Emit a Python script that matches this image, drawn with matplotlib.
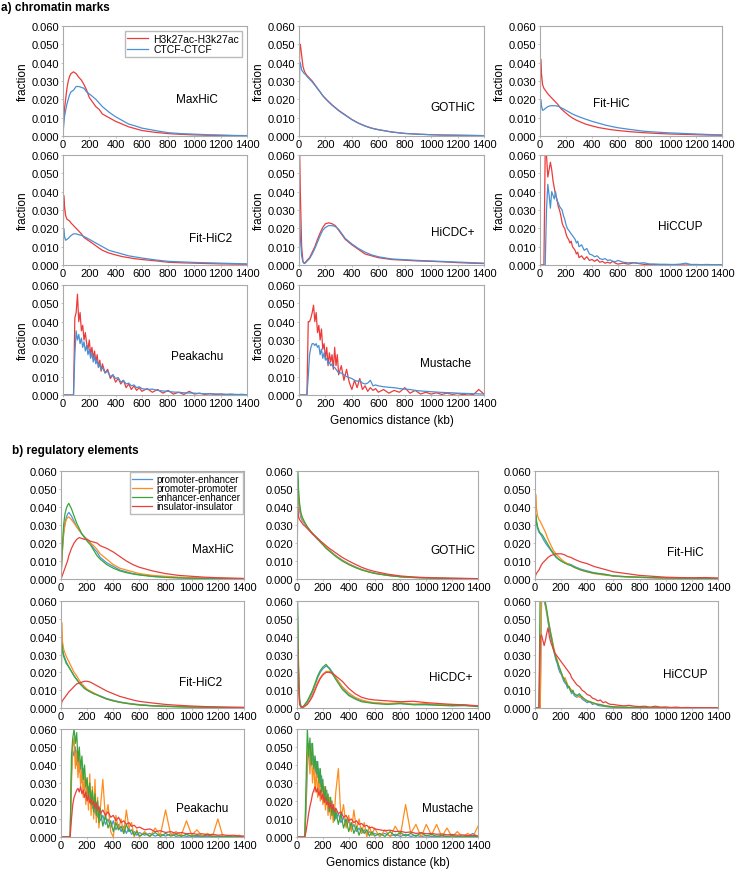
import numpy as np
import matplotlib.pyplot as plt

plt.rcParams['font.family'] = ['Liberation Sans', 'DejaVu Sans']

# x grids (kb)
XS = [0, 5, 10, 20, 30, 40, 50, 60,
      80, 100, 120, 140, 160, 180, 200, 225, 250, 275, 300,
      350, 400, 450, 500, 550, 600,
      700, 800, 900, 1000, 1100, 1200, 1300, 1400]
XN = np.concatenate([np.arange(0, 301, 10), np.arange(320, 601, 20), np.arange(640, 1401, 40)])

# values in units of 0.001 (fraction)
# ---------------- a) chromatin marks: H3k27ac (red), CTCF (blue) ----------------
a_maxhic_h3 = [0, 8, 14, 20, 26, 30, 32.5, 34,
               35, 34, 32, 30.5, 28, 25, 21, 18.5, 16, 14.5, 12,
               10, 8, 6.5, 5, 4, 3,
               2, 1.3, 0.9, 0.6, 0.4, 0.3, 0.2, 0.1]
a_maxhic_ctcf = [0, 6, 10, 14, 17.5, 20, 22.5, 24,
                 25, 27, 27, 26.5, 26, 24, 23, 21.5, 20, 18, 16,
                 13, 10.5, 8.5, 6.5, 5.5, 4.3,
                 3, 1.8, 1.3, 1.0, 0.7, 0.5, 0.3, 0.2]
a_gothic_h3 = [0, 50, 50, 44, 38, 35.5, 34, 33,
               31.5, 30, 28, 26, 24, 22, 20.5, 18.7, 17, 15.5, 14,
               11.5, 9, 7, 5.5, 4.3, 3.5,
               2.2, 1.4, 1, 0.7, 0.5, 0.4, 0.3, 0.2]
a_gothic_ctcf = [0, 40, 40, 36, 35, 34, 33.5, 32.5,
                 31, 29.5, 27.7, 25.8, 24, 22, 20.3, 18.5, 16.8, 15.3, 13.8,
                 11.3, 8.9, 7, 5.4, 4.2, 3.4,
                 2.2, 1.4, 1, 0.7, 0.5, 0.4, 0.3, 0.2]
a_fithic_h3 = [0, 42, 35, 28, 26, 25, 24, 23,
               21.5, 20, 18.5, 17, 15, 13.7, 12.5, 11, 9.8, 8.8, 8,
               6.5, 5.5, 4.6, 4, 3.4, 3,
               2.3, 1.8, 1.4, 1.1, 0.9, 0.7, 0.5, 0.4]
a_fithic_ctcf = [0, 20, 17, 14, 14.3, 15, 15.5, 16,
                 16.5, 16.5, 16.5, 16.2, 15.5, 14.8, 14, 13, 12, 11.2, 10.5,
                 9.2, 8, 7, 6, 5.2, 4.5,
                 3.5, 2.6, 2.1, 1.7, 1.4, 1.1, 0.8, 0.6]
a_fithic2_h3 = [0, 38, 33, 27, 25, 24.5, 24, 23,
                21.5, 20, 18.5, 17, 15, 14, 13, 11.8, 10.5, 9.2, 8,
                6.5, 5.5, 4.6, 4, 3.4, 3,
                2.3, 1.5, 1.2, 1.0, 0.8, 0.6, 0.5, 0.4]
a_fithic2_ctcf = [0, 20, 16, 13.5, 14, 14.5, 15.3, 16,
                  17, 17, 16.5, 16.2, 15.5, 14.8, 14, 13, 12, 11, 10,
                  8, 7, 6, 5, 4.4, 3.8,
                  2.8, 2, 1.7, 1.4, 1.2, 1, 0.8, 0.6]
a_hicdc_h3 = [65, 62, 40, 10, 2, 1, 1.5, 2.5,
              4, 7, 10, 14, 17.5, 20.5, 22.5, 23, 22.5, 21.5, 19,
              14, 11, 8.5, 6, 5, 4,
              3, 2.6, 2.2, 2, 1.7, 1.3, 1.0, 0.8]
a_hicdc_ctcf = [30, 25, 15, 5, 1.5, 0.8, 1.2, 2,
                3.5, 6, 9, 12.5, 16, 19, 20.5, 21.5, 21.5, 21, 19.5,
                14.5, 11.5, 9, 7, 5.5, 4.5,
                3.3, 2.9, 2.5, 2.2, 1.9, 1.6, 1.3, 1.0]
a_hiccup_h3 = [0, 0, 0, 0, 62, 60, 48, 52, 56, 52, 46, 42, 38, 36, 32, 30, 27, 23, 21, 20, 17,
               15, 14, 12, 13, 10, 9, 8, 6, 7, 4,
               5, 3, 4.5, 2.5, 3, 2, 3, 1.5, 2, 1, 1.5, 1, 2, 1, 0.5,
               1, 0.5, 1.2, 0.8, 0.3, 0.2, 0.3, 0.2, 0.1, 0.1, 0.2, 0.1, 0, 0.1, 0, 0, 0.1, 0, 0, 0]
a_hiccup_ctcf = [0, 0, 0, 0, 0, 30, 44, 38, 31, 40, 38, 36, 40, 35, 34, 32, 31, 30, 27, 25, 22,
                 20, 19, 18, 17, 16, 15, 14, 12, 13, 10,
                 11, 8, 9, 6, 5.5, 4.5, 5, 3.5, 3, 3.5, 2.5, 2.8, 2, 1.8, 2.5,
                 1.5, 1.2, 1.3, 1, 1.2, 0.6, 0.5, 0.4, 0.4, 0.3, 0.3, 0.5, 1, 0.3, 0.3, 0.2, 0.3, 0.2, 0.2, 0.2]
a_peakachu_h3 = [0, 0, 0, 0, 0, 0, 0, 0, 0, 42, 45, 55, 40, 45, 35, 38, 30, 34, 28, 25, 30,
                 22, 26, 20, 24, 18, 22, 15, 19, 13, 17,
                 12, 14, 9, 11, 7, 9, 6, 8, 4, 6, 3, 5, 2.5, 4, 2,
                 3.5, 1.5, 3, 1, 2.5, 0.5, 1.5, 0.3, 2, 0.5, 1, 0.3, 0.8, 0.2, 0.5, 0.2, 0.4, 0.1, 0.3, 0.1]
a_peakachu_ctcf = [0, 0, 0, 0, 0, 0, 0, 0, 0, 22, 35, 30, 33, 28, 31, 26, 29, 24, 27, 22, 25,
                   20, 23, 18, 21, 17, 19, 15, 17, 14, 15,
                   12, 13, 10, 11, 9, 9.5, 7, 8, 6, 6.5, 5, 5.5, 4, 4.5, 3.5,
                   3, 3.2, 2.5, 2.2, 2, 1.6, 1.5, 1.2, 1.1, 1, 0.8, 0.7, 0.6, 0.6, 0.5, 0.4, 0.4, 0.3, 0.3, 0.2]
a_mustache_h3 = [0, 0, 0, 0, 0, 0, 0, 40, 40, 42, 45, 49, 40, 45, 34, 38, 30, 36, 25, 28, 20,
                 26, 16, 23, 18, 22, 14, 26, 16, 22, 11,
                 16, 8, 14, 7, 3, 8, 4, 9, 3, 5, 2, 4, 2.5, 3.5, 1.5,
                 3, 1, 2.5, 1.5, 4, 1, 2.5, 0.5, 1.5, 0.5, 1.2, 0.3, 1, 0.3, 0.8, 0.2, 0.6, 0.2, 3, 0.5]
a_mustache_ctcf = [0, 0, 0, 0, 0, 0, 0, 10, 22, 26, 28, 28, 27, 28, 26, 27, 22, 25, 20, 23, 19,
                   20, 17, 18, 16, 17, 15, 15, 14, 13, 12,
                   12, 11, 10, 9.5, 9, 8, 7.5, 8, 6.5, 6, 6.5, 8, 5, 5.5, 5,
                   4.5, 4.2, 4, 3.5, 3.2, 3, 2.5, 2.2, 2, 1.8, 1.6, 1.4, 1.3, 1.2, 1, 0.9, 0.8, 0.7, 0.6, 0.5]

# ---------------- b) regulatory elements: P-E (blue), P-P (orange), E-E (green), I-I (red) ----------------
b_maxhic_pe = [0, 8, 15, 25, 31, 34, 36, 37,
               35, 32, 29, 27, 25, 23.5, 22, 20, 17, 15, 12,
               9, 7, 5, 4, 3, 2.5,
               1.5, 1, 0.7, 0.5, 0.4, 0.3, 0.2, 0.1]
b_maxhic_pp = [0, 8, 15, 25, 30, 33, 34, 34.5,
               33, 31, 29, 27, 25, 23, 22, 20, 18.5, 16.5, 14,
               11, 8, 6, 5, 4, 3,
               2, 1.5, 1, 0.7, 0.5, 0.4, 0.3, 0.2]
b_maxhic_ee = [0, 10, 18, 30, 36, 39, 41, 42,
               39, 35, 31, 28, 25, 23, 21, 19, 16, 13, 11,
               8, 6, 4.5, 3.5, 2.8, 2.2,
               1.4, 0.9, 0.6, 0.4, 0.3, 0.2, 0.15, 0.1]
b_maxhic_ii = [0, 1, 2, 4, 6, 8, 10, 13,
               17, 20, 22, 23, 22.5, 22, 22, 21, 20.5, 20, 18.5,
               17, 15, 12.5, 10, 8, 6.5,
               4.5, 3, 2, 1.5, 1, 0.7, 0.5, 0.3]
b_gothic_pe = [0, 50, 45, 38, 34, 32.5, 31.5, 30.5,
               28.5, 27, 25.5, 24, 22.5, 21, 19.5, 17.5, 16, 14.5, 13,
               10.5, 8.5, 6.8, 5.3, 4.2, 3.3,
               2.1, 1.3, 0.9, 0.6, 0.45, 0.3, 0.25, 0.2]
b_gothic_pp = [0, 55, 48, 40, 36, 33.5, 32, 31,
               29, 27, 25.3, 23.8, 22.3, 20.8, 19.3, 17.5, 15.8, 14.3, 12.8,
               10.3, 8.3, 6.6, 5.2, 4.1, 3.2,
               2, 1.3, 0.9, 0.6, 0.45, 0.3, 0.25, 0.2]
b_gothic_ee = [0, 60, 52, 42, 37, 34.5, 33, 31.5,
               29, 27, 25, 23.5, 22, 20.5, 19, 17, 15.5, 14, 12.5,
               10, 8, 6.4, 5, 4, 3.1,
               2, 1.2, 0.8, 0.6, 0.4, 0.3, 0.2, 0.15]
b_gothic_ii = [0, 40, 35, 33, 32, 31, 30, 29.5,
               28, 26.5, 25, 23.8, 22.5, 21.2, 20, 18.5, 17, 15.8, 14.5,
               12, 10, 8.2, 6.5, 5.2, 4.2,
               2.7, 1.7, 1.1, 0.8, 0.55, 0.4, 0.3, 0.2]
b_fithic_pe = [0, 35, 32, 28, 26, 25, 24, 22.5,
               20, 18, 16, 14, 12, 11, 10, 9, 8.5, 8, 7,
               5.5, 4.5, 3.5, 3, 2.5, 1.5,
               1.2, 0.9, 0.7, 0.5, 0.4, 0.3, 0.2, 0.15]
b_fithic_pp = [0, 47, 40, 35, 33, 32, 30.5, 29,
               26, 22, 19, 16, 14, 12.5, 11, 9.5, 8.5, 7.5, 6.5,
               5, 4, 3, 2.5, 2, 1.7,
               1.2, 0.9, 0.7, 0.5, 0.4, 0.3, 0.2, 0.15]
b_fithic_ee = [0, 36, 33, 29, 27, 25.5, 25, 24,
               21.5, 19, 16.5, 14.5, 12.5, 11, 10, 9, 8, 7.5, 6.5,
               5, 4, 3.3, 2.8, 2.3, 1.8,
               1.3, 1, 0.8, 0.6, 0.4, 0.3, 0.2, 0.15]
b_fithic_ii = [0, 2, 3, 4, 5, 6.5, 8, 9,
               10.5, 12, 13, 13.5, 14, 14, 14, 13.5, 12.5, 12, 11,
               9.5, 8.5, 7, 6, 5, 4,
               3, 2, 1.5, 1, 0.8, 0.7, 0.8, 0.6]
b_fithic2_pe = [0, 40, 34, 30, 28, 26, 24.5, 23,
                20.5, 18, 16, 14, 12.5, 11, 10, 9, 8.2, 7.5, 6.8,
                5.3, 4.3, 3.4, 2.8, 2.3, 1.9,
                1.3, 1, 0.8, 0.6, 0.45, 0.35, 0.25, 0.2]
b_fithic2_pp = [0, 48, 38, 33, 31, 29, 27.5, 26,
                23, 20, 18, 15.5, 13.5, 12, 10.5, 9.5, 8.5, 7.5, 6.5,
                5, 4, 3.2, 2.6, 2.1, 1.7,
                1.2, 0.9, 0.7, 0.5, 0.4, 0.3, 0.2, 0.15]
b_fithic2_ee = [0, 36, 33, 29, 27, 25, 24, 23,
                20.5, 18, 16, 14, 12.5, 11, 10, 9, 8, 7.3, 6.5,
                5, 4, 3.2, 2.6, 2.1, 1.7,
                1.2, 0.9, 0.7, 0.5, 0.4, 0.3, 0.2, 0.15]
b_fithic2_ii = [0, 3, 4, 5, 6, 7, 8, 9,
                10.5, 12, 13.5, 14, 14.5, 15, 15, 14.5, 13.5, 12.5, 11.5,
                9.5, 8, 6.5, 5.5, 4.5, 3.7,
                2.8, 2, 1.5, 1.1, 0.8, 0.6, 0.5, 0.4]
b_hicdc_pe = [58, 50, 25, 4, 1, 0.5, 0.8, 1.5,
              3.5, 6, 9, 13, 17, 20, 22, 23.5, 22.5, 20, 17,
              11.5, 7.5, 5.5, 4, 3.2, 2.8,
              2.3, 2.5, 2, 1.8, 1.6, 1.4, 1.3, 1]
b_hicdc_pp = [60, 45, 20, 3, 0.5, 0.3, 0.5, 1,
              2.5, 4.5, 7.5, 11, 14.5, 17, 19, 20.5, 20.5, 19, 17,
              12, 8.5, 6, 4.5, 3.5, 3,
              2.5, 3, 2.2, 2.5, 1.8, 2, 1.5, 1]
b_hicdc_ee = [62, 60, 30, 5, 1, 0.5, 1, 2,
              4, 7, 10, 14, 18, 21, 23, 24.5, 22, 19, 16,
              10.5, 7, 5, 3.5, 3, 2.5,
              2, 2.5, 1.8, 2, 1.5, 1.2, 1.5, 0.8]
b_hicdc_ii = [45, 35, 15, 2, 0.5, 0.3, 0.5, 1,
              2, 4, 6.5, 10, 13.5, 16.5, 18.5, 20, 20, 19.5, 18,
              15, 11, 8, 6, 5, 4.5,
              4, 3.5, 3.8, 3, 2.5, 2, 1.8, 1.2]
b_hiccup_pe = [0, 0, 0, 0, 0, 62, 62, 60, 57, 53, 48, 44, 40, 37, 33, 30, 27, 25, 22, 20, 19,
               17, 15, 14, 13, 11, 12, 10, 8, 9, 7,
               6, 7, 5, 4, 3, 3.5, 2, 2.5, 1.5, 1.2, 1, 0.8, 0.6, 0.5, 0.4,
               0.3, 0.3, 0.2, 0.2, 0.2, 0.1, 0.1, 0.1, 0.1, 0, 0, 0, 0, 0, 0, 0, 0, 0, 0, 0]
b_hiccup_pp = [0, 0, 0, 0, 0, 60, 62, 61, 58, 54, 50, 46, 42, 39, 35, 32, 29, 27, 24, 22, 20,
               18, 16, 17, 15, 13, 12, 11, 10, 9, 8,
               7, 6, 6.5, 4.5, 4, 3.5, 3, 2.5, 2.2, 1.8, 1.5, 1.2, 1, 0.8, 0.6,
               0.5, 0.4, 0.4, 0.3, 0.3, 0.2, 0.2, 0.2, 0.1, 0.1, 0.1, 0.1, 0, 0, 0, 0, 0, 0, 0, 0]
b_hiccup_ee = [0, 0, 0, 0, 70, 65, 62, 62, 59, 55, 50, 46, 42, 38, 34, 31, 28, 26, 24, 22, 20,
               18, 16.5, 15, 14, 12, 12, 10, 9, 10, 8,
               7, 8, 6, 5, 4, 3.5, 3, 2.5, 2, 2, 1.5, 1.2, 1, 0.8, 0.7,
               0.5, 0.4, 0.3, 0.3, 0.2, 0.2, 0.1, 0.1, 0.1, 0.1, 0, 0, 0, 0, 0, 0, 0, 0, 0, 0]
b_hiccup_ii = [0, 0, 0, 0, 40, 41, 38, 35, 38, 42, 45, 40, 37, 35, 33, 31, 30, 29, 28, 27, 26,
               25, 24, 23, 22, 21, 20, 19, 17, 16, 15,
               13, 12, 10, 9, 7.5, 7, 5.5, 5, 4, 4.5, 3, 3.5, 2.5, 2, 2,
               1.5, 1.2, 1.5, 1, 0.8, 1, 0.5, 1, 0.5, 0.6, 0.3, 0.5, 0.2, 0.3, 0.2, 0.2, 0.1, 0.2, 0.1, 0.1]
b_peakachu_pe = [0, 0, 0, 0, 0, 0, 0, 0, 35, 48, 45, 50, 40, 46, 36, 42, 30, 38, 26, 32, 22,
                 28, 20, 25, 16, 22, 13, 18, 11, 15, 9,
                 12, 7, 10, 5, 9, 4, 7, 3, 6, 2, 5, 1.5, 3, 1, 2.5,
                 1, 2, 0.5, 1.5, 0.5, 1.8, 0.3, 1, 0.3, 0.8, 0.2, 0.6, 0.2, 0.5, 0.2, 0.3, 0.1, 0.2, 0.1, 0.1]
b_peakachu_pp = [0, 0, 0, 0, 0, 0, 0, 0, 30, 50, 55, 38, 48, 33, 45, 28, 38, 22, 34, 18, 30,
                 15, 35, 12, 28, 10, 32, 8, 22, 5, 15,
                 32, 10, 18, 3, 0, 12, 4, 10, 2, 15, 5, 8, 0, 4, 0,
                 3, 0, 5, 1, 15, 1, 3, 1, 9, 1, 4, 0.5, 2, 0.5, 10, 0, 1, 0, 1, 0]
b_peakachu_ee = [0, 0, 0, 0, 0, 0, 0, 0, 45, 55, 60, 52, 58, 42, 50, 38, 45, 32, 40, 28, 33,
                 22, 30, 18, 26, 14, 24, 12, 20, 8, 16,
                 6, 12, 5, 9, 3, 8, 4, 6, 2, 7, 3, 4, 1, 3, 0.5,
                 2, 0.5, 2.5, 0.3, 2, 0.5, 1.5, 0.3, 1.5, 0.3, 1, 0.2, 1.2, 0.2, 0.5, 0.2, 0.3, 0.1, 0.2, 0.1]
b_peakachu_ii = [0, 0, 0, 0, 0, 0, 0, 0, 10, 18, 22, 24, 26, 27, 25, 28, 24, 26, 22, 25, 20,
                 23, 19, 21, 18, 20, 16, 19, 15, 17, 13,
                 15, 12, 14, 11, 12, 9, 11, 8, 9, 7, 8, 6, 6.5, 5, 5.5,
                 4, 4.5, 3, 3.5, 2.5, 3, 2, 2.5, 1.8, 2, 1.5, 1.8, 1.2, 1.5, 1, 1.2, 0.8, 1, 0.6, 0.5]
b_mustache_pe = [0, 0, 0, 0, 0, 0, 0, 15, 38, 48, 42, 52, 40, 45, 36, 42, 33, 38, 28, 34, 25,
                 28, 20, 26, 17, 22, 14, 20, 12, 16, 10,
                 13, 8, 11, 6, 9, 4, 7, 3, 5, 2, 4, 1.5, 3, 1, 2,
                 1, 2, 0.5, 1.5, 0.3, 1.5, 0.3, 1, 0.2, 0.8, 0.2, 0.5, 0.2, 0.4, 0.1, 0.3, 0.1, 0.2, 2, 0.1]
b_mustache_pp = [0, 0, 0, 0, 0, 0, 0, 20, 45, 52, 35, 50, 30, 42, 25, 38, 22, 35, 20, 30, 18,
                 28, 15, 25, 12, 22, 10, 20, 8, 14, 25,
                 38, 10, 18, 5, 12, 3, 15, 4, 10, 2, 8, 0, 6, 1, 5,
                 0, 4, 0, 6, 1, 18, 2, 7, 0, 7, 1, 7, 0, 5, 0, 3, 0, 2, 0, 6]
b_mustache_ee = [0, 0, 0, 0, 0, 0, 0, 30, 60, 45, 55, 40, 52, 38, 45, 35, 42, 30, 38, 25, 32,
                 20, 28, 18, 24, 14, 22, 12, 18, 9, 15,
                 7, 13, 5, 10, 3, 8, 2, 6, 1, 5, 2, 4, 0.5, 3, 0.5,
                 2, 0.3, 3, 0.5, 2.5, 0.5, 2, 0.3, 2.5, 0.5, 1.5, 0.3, 1, 0.2, 0.8, 0.2, 0.5, 0.1, 0.3, 0.1]
b_mustache_ii = [0, 0, 0, 0, 0, 0, 0, 3, 8, 13, 17, 20, 24, 26, 28, 25, 27, 23, 26, 21, 24,
                 19, 22, 18, 20, 16, 19, 15, 18, 14, 16,
                 13, 14, 11, 12, 9, 10, 8, 9, 7, 7.5, 6, 6.5, 5, 5.5, 4.5,
                 4, 3.5, 3.8, 3, 3.2, 2.5, 2.8, 2, 2.3, 1.8, 2, 1.5, 1.7, 1.2, 1.4, 1, 1.2, 0.8, 1, 0.6]

a_labels = ['H3k27ac-H3k27ac', 'CTCF-CTCF']
a_colors = ['#ec3b3b', '#4a90d2']
b_labels = ['promoter-enhancer', 'promoter-promoter', 'enhancer-enhancer', 'insulator-insulator']
b_colors = ['#4b95d8', '#ff8c1c', '#3aa63a', '#e8403c']

tools = ['MaxHiC', 'GOTHiC', 'Fit-HiC', 'Fit-HiC2', 'HiCDC+', 'HiCCUP', 'Peakachu', 'Mustache']

a_data = [
    (XS, [a_maxhic_h3, a_maxhic_ctcf]),
    (XS, [a_gothic_h3, a_gothic_ctcf]),
    (XS, [a_fithic_h3, a_fithic_ctcf]),
    (XS, [a_fithic2_h3, a_fithic2_ctcf]),
    (XS, [a_hicdc_h3, a_hicdc_ctcf]),
    (XN, [a_hiccup_h3, a_hiccup_ctcf]),
    (XN, [a_peakachu_h3, a_peakachu_ctcf]),
    (XN, [a_mustache_h3, a_mustache_ctcf]),
]
b_data = [
    (XS, [b_maxhic_pe, b_maxhic_pp, b_maxhic_ee, b_maxhic_ii]),
    (XS, [b_gothic_pe, b_gothic_pp, b_gothic_ee, b_gothic_ii]),
    (XS, [b_fithic_pe, b_fithic_pp, b_fithic_ee, b_fithic_ii]),
    (XS, [b_fithic2_pe, b_fithic2_pp, b_fithic2_ee, b_fithic2_ii]),
    (XS, [b_hicdc_pe, b_hicdc_pp, b_hicdc_ee, b_hicdc_ii]),
    (XN, [b_hiccup_pe, b_hiccup_pp, b_hiccup_ee, b_hiccup_ii]),
    (XN, [b_peakachu_pe, b_peakachu_pp, b_peakachu_ee, b_peakachu_ii]),
    (XN, [b_mustache_pe, b_mustache_pp, b_mustache_ee, b_mustache_ii]),
]

W, H = 735, 870
# panel boxes in pixels: (left, right, top, bottom)
a_cols = [(63, 247), (299, 484), (540, 722)]
a_rows = [(27, 137), (156, 266), (286, 396)]
b_cols = [(61, 244), (297, 478), (535, 718)]
b_rows = [(472, 580), (602, 709), (730, 838)]
a_txt = [(0.73, 0.34), (0.83, 0.26), (0.39, 0.30), (0.80, 0.25),
         (0.83, 0.30), (0.77, 0.35), (0.73, 0.35), (0.79, 0.29)]
b_txt = [(0.83, 0.28), (0.86, 0.27), (0.82, 0.25), (0.76, 0.24),
         (0.85, 0.29), (0.82, 0.32), (0.77, 0.27), (0.83, 0.27)]

fig = plt.figure(figsize=(W / 100, H / 100), dpi=100)


def make_panel(box, xs, series, colors, name, txt, ylab):
    l, r, t, b = box
    ax = fig.add_axes([l / W, 1 - b / H, (r - l) / W, (b - t) / H])
    lines = []
    for ys, c in zip(series, colors):
        ys = np.asarray(ys, dtype=float)
        assert len(ys) == len(xs), (name, len(ys), len(xs))
        ln, = ax.plot(xs, ys / 1000, color=c, lw=0.9)
        lines.append(ln)
    ax.set_xlim(0, 1400)
    ax.set_ylim(0, 0.06)
    ax.set_xticks(range(0, 1401, 200))
    ax.set_yticks(np.arange(0, 0.0601, 0.01))
    ax.yaxis.set_major_formatter(plt.FormatStrFormatter('%.3f'))
    ax.tick_params(labelsize=8, length=1.5, width=0.5, color='#aaaaaa', pad=1)
    for s in ax.spines.values():
        s.set_color('#aaaaaa')
        s.set_linewidth(0.8)
    ax.text(txt[0], txt[1], name, transform=ax.transAxes, ha='center', va='center', fontsize=8.5)
    if ylab:
        ax.set_ylabel('fraction', fontsize=8.5, labelpad=2)
    return ax, lines


def make_part(cols, rows, data, colors, txts, ylab, labels, leg_fs, leg_sp, leg_pad):
    axes = []
    for i, (xs, series) in enumerate(data):
        r, c = divmod(i, 3)
        box = (cols[c][0], cols[c][1], rows[r][0], rows[r][1])
        ax, lines = make_panel(box, xs, series, colors, tools[i], txts[i], ylab)
        axes.append((ax, lines))
    ax0, lines0 = axes[0]
    ax0.legend(lines0, labels, loc='upper right', fontsize=leg_fs, frameon=True, fancybox=False,
               edgecolor='#bbbbbb', framealpha=1, borderpad=0.25, labelspacing=leg_sp,
               handlelength=2.0, handletextpad=0.5, borderaxespad=leg_pad)
    axes[7][0].set_xlabel('Genomics distance (kb)', fontsize=8.5, labelpad=4)


make_part(a_cols, a_rows, a_data, a_colors, a_txt, True, a_labels, 7.5, 0.05, 0.5)
make_part(b_cols, b_rows, b_data, b_colors, b_txt, False, b_labels, 7, -0.1, 0.1)

fig.text(1 / W, 1 - 8 / H, 'a) chromatin marks', fontsize=8.5, fontweight='bold', va='center')
fig.text(12 / W, 1 - 451 / H, 'b) regulatory elements', fontsize=8.5, fontweight='bold', va='center')

fig.savefig('out.png', dpi=100)
